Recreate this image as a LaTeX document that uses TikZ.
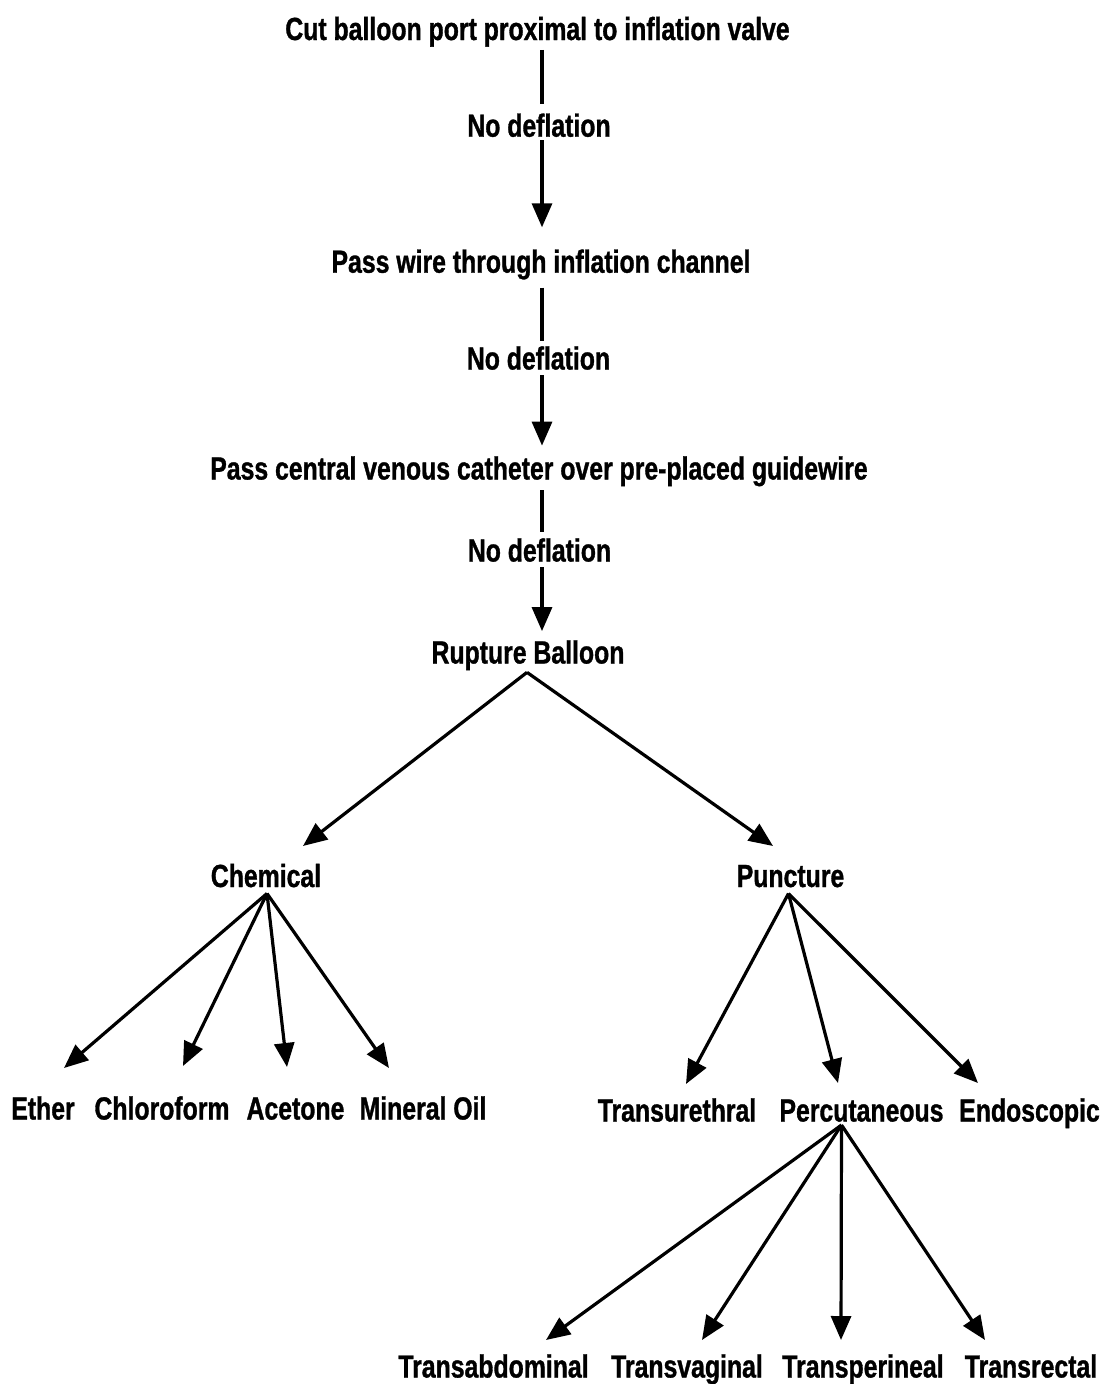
\documentclass[tikz,border=0pt]{standalone}
\usepackage{fontspec}
\setmainfont{Liberation Sans}[FakeStretch=0.775, BoldFeatures={FakeBold=1}]
\usetikzlibrary{arrows.meta,calc}
\begin{document}
\begin{tikzpicture}[x=1pt,y=-1pt,
  lbl/.style={font=\fontsize{32}{36}\selectfont\bfseries, inner sep=0pt, anchor=base},
  ln/.style={line width=3.2pt},
  arr/.style={ln, -{Triangle[length=24pt,width=20pt]}}]
\fill[white] (0,0) rectangle (1102,1384);
\useasboundingbox (0,0) rectangle (1102,1384);
\coordinate (spine) at (542,0);
% main column
\node[lbl] (cut)   at (537.5,40)  {Cut balloon port proximal to inflation valve};
\node[lbl] (nd1)   at (539,136.7) {No deflation};
\node[lbl] (pass1) at (541,272.7) {Pass wire through inflation channel};
\node[lbl] (nd2)   at (538.5,369.5) {No deflation};
\node[lbl] (pass2) at (539,479.5) {Pass central venous catheter over pre-placed guidewire};
\node[lbl] (nd3)   at (539.5,561.5) {No deflation};
\node[lbl] (rup)   at (528,663.5) {Rupture Balloon};
% second level
\node[lbl] (chem)  at (266,887) {Chemical};
\node[lbl] (punc)  at (790.5,887) {Puncture};
% chemical leaves
\node[lbl] (ether)   at (43,1119.5)  {Ether};
\node[lbl] (chloro)  at (162,1119.5) {Chloroform};
\node[lbl] (acetone) at (295.5,1119.5) {Acetone};
\node[lbl] (mineral) at (423,1119.5) {Mineral Oil};
% puncture leaves
\node[lbl] (turethral) at (677,1121.5) {Transurethral};
\node[lbl] (percut)    at (861.5,1121.5) {Percutaneous};
\node[lbl] (endo)      at (1029.5,1121.5) {Endoscopic};
% percutaneous leaves
\node[lbl] (tabd)   at (493.5,1377.5) {Transabdominal};
\node[lbl] (tvag)   at (687,1377.5) {Transvaginal};
\node[lbl] (tper)   at (863,1377.5) {Transperineal};
\node[lbl] (trect)  at (1031,1377.5) {Transrectal};
% arrow tips
\coordinate (tchem)   at (303,846);
\coordinate (tpunc)   at (773,846);
\coordinate (tether)  at (64,1068);
\coordinate (tchloro) at (183,1066);
\coordinate (tacet)   at (287,1067);
\coordinate (tmin)    at (389,1068);
\coordinate (tture)   at (686,1084);
\coordinate (tperc)   at (838,1083);
\coordinate (tendo)   at (978,1083);
\coordinate (ttabd)   at (546,1340);
\coordinate (ttvag)   at (702,1340);
\coordinate (ttper)   at (841,1340);
\coordinate (ttrect)  at (985,1340);
% vertical spine
\draw[ln]  ($(cut.south -| spine)+(0,3)$)   -- ($(nd1.north -| spine)+(0,-9)$);
\draw[arr] ($(nd1.south -| spine)+(0,3)$)   -- ($(pass1.north -| spine)+(0,-22)$);
\draw[ln]  ($(pass1.south -| spine)+(0,8)$) -- ($(nd2.north -| spine)+(0,-5)$);
\draw[arr] ($(nd2.south -| spine)+(0,5)$)   -- ($(pass2.north -| spine)+(0,-10.5)$);
\draw[ln]  ($(pass2.south -| spine)+(0,4)$) -- ($(nd3.north -| spine)+(0,-6)$);
\draw[arr] ($(nd3.south -| spine)+(0,5)$)   -- ($(rup.north -| spine)+(0,-9)$);
% rupture branches
\draw[arr] ($(rup.south)+(-1,2)$) -- (tchem);
\draw[arr] ($(rup.south)+(-1,2)$) -- (tpunc);
% chemical branches
\draw[arr] ($(chem.south)+(1,6)$) -- (tether);
\draw[arr] ($(chem.south)+(1,6)$) -- (tchloro);
\draw[arr] ($(chem.south)+(1,6)$) -- (tacet);
\draw[arr] ($(chem.south)+(1,6)$) -- (tmin);
% puncture branches
\draw[arr] ($(punc.south)+(-2,6)$) -- (tture);
\draw[arr] ($(punc.south)+(-2,6)$) -- (tperc);
\draw[arr] ($(punc.south)+(-2,6)$) -- (tendo);
% percutaneous branches
\draw[arr] ($(percut.south)+(-20,3)$) -- (ttabd);
\draw[arr] ($(percut.south)+(-20,3)$) -- (ttvag);
\draw[arr] ($(percut.south)+(-20,3)$) -- (ttper);
\draw[arr] ($(percut.south)+(-20,3)$) -- (ttrect);
\end{tikzpicture}
\end{document}
